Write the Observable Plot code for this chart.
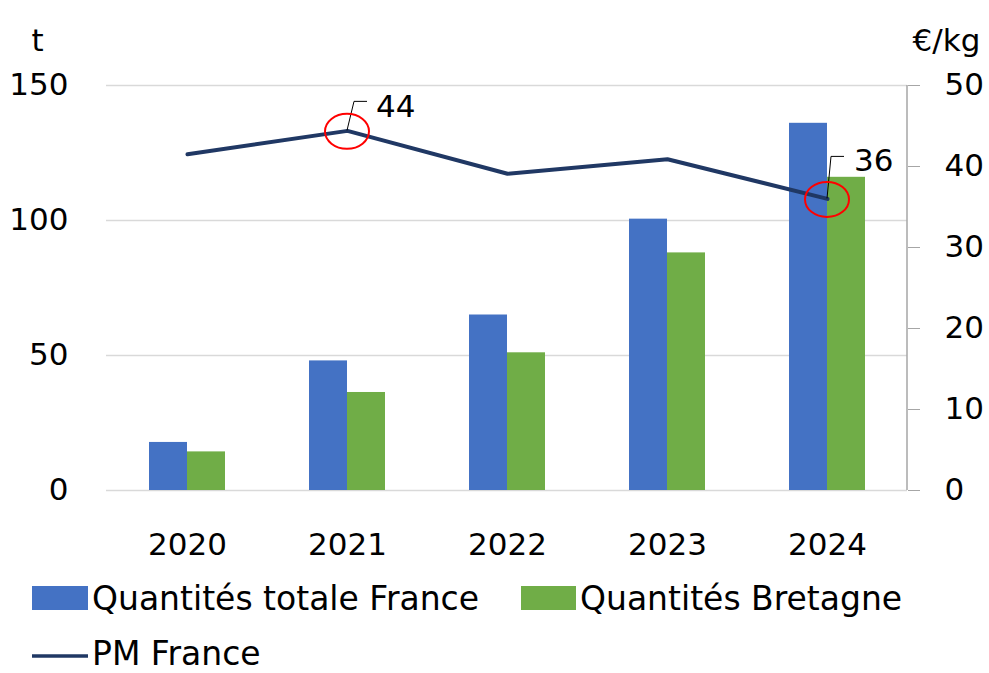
<!DOCTYPE html>
<html><head><meta charset="utf-8">
<script src="https://cdn.jsdelivr.net/npm/d3@7"></script>
<script src="https://cdn.jsdelivr.net/npm/@observablehq/plot@0.6"></script>
<style>
body{margin:0;background:#fff;}
#chart{width:989px;height:673px;overflow:hidden;}
svg{display:block;}
</style>
</head><body><div id="chart"></div>
<script>
// ---- data ----
const years = ["2020", "2021", "2022", "2023", "2024"];
const totalFrance = [17.8, 48, 65, 100.5, 136];
const bretagne = [14.3, 36.3, 51, 88, 116];
const pmFrance = [41.5, 44.4, 39.1, 40.9, 36];
const pmLabels = ["", "44", "", "", "36"];
const leftTicks = [0, 50, 100, 150];
const rightTicks = [0, 10, 20, 30, 40, 50];
const seriesNames = ["Quantités totale France", "Quantités Bretagne", "PM France"];
const unitLeft = "t";
const unitRight = "€/kg";

// ---- styling ----
const colors = ["#4472C4", "#70AD47", "#203864"];
const FONT = "DejaVu Sans";
const RATIO = 150 / 50; // right axis (0–50) mapped onto left axis (0–150)
const labelOffsets = {"2021": {lx: 7, ly: -29, hx: 20, tx: 29, ty: -25},
                      "2024": {lx: 4, ly: -42, hx: 17, tx: 27, ty: -39}};

const rows = years.map((y, i) => ({year: y, total: totalFrance[i], bret: bretagne[i], pm: pmFrance[i], label: pmLabels[i]}));

const annotations = (index, scales, values, dims) => {
  const g = d3.create("svg:g");
  const bw = scales.x.bandwidth ? scales.x.bandwidth() : 0;
  const xr = dims.width - dims.marginRight;
  g.append("line")
    .attr("x1", xr).attr("x2", xr)
    .attr("y1", scales.y(150)).attr("y2", scales.y(0))
    .attr("stroke", "#a6a6a6").attr("stroke-width", 1.5);
  rows.filter(d => d.label).forEach(d => {
    const px = scales.x(d.year) + bw / 2;
    const py = scales.y(d.pm * RATIO);
    const o = labelOffsets[d.year];
    g.append("path")
      .attr("d", `M${px},${py}L${px + o.lx},${py + o.ly}L${px + o.hx},${py + o.ly}`)
      .attr("fill", "none").attr("stroke", "#000").attr("stroke-width", 1);
    g.append("ellipse")
      .attr("cx", px).attr("cy", py + 1)
      .attr("rx", 22).attr("ry", 17.5)
      .attr("fill", "none").attr("stroke", "#ff0000").attr("stroke-width", 2);
    g.append("text")
      .attr("x", px + o.tx).attr("y", py + o.ty)
      .attr("dy", "0.36em")
      .attr("text-anchor", "start")
      .attr("font-size", 31).attr("font-family", FONT).attr("fill", "#000")
      .text(d.label);
  });
  return g.node();
};

const plot = Plot.plot({
  width: 989, height: 570,
  marginLeft: 106, marginRight: 82, marginTop: 85, marginBottom: 80,
  style: {fontFamily: FONT, fontSize: "31px", color: "#000", background: "#fff"},
  x: {type: "band", domain: years, padding: 0},
  y: {domain: [0, 150]},
  marks: [
    Plot.gridY(leftTicks, {stroke: "#d9d9d9", strokeOpacity: 1, strokeWidth: 1.5}),
    Plot.barY(rows, {x: "year", y: "total", fill: colors[0], insetLeft: 42, insetRight: 80}),
    Plot.barY(rows, {x: "year", y: "bret", fill: colors[1], insetLeft: 80, insetRight: 42}),
    Plot.line(rows, {x: "year", y: d => d.pm * RATIO, stroke: colors[2], strokeWidth: 4}),
    Plot.axisY(leftTicks, {anchor: "left", tickSize: 0, tickPadding: 38, label: null}),
    Plot.axisY(rightTicks.map(v => v * RATIO), {anchor: "right", tickSize: 12, tickPadding: 25, stroke: "#a6a6a6", tickFormat: d => d / RATIO, label: null}),
    Plot.axisX({tickSize: 0, tickPadding: 42, label: null}),
    annotations,
    Plot.text([unitLeft], {frameAnchor: "top-left", textAnchor: "middle", dx: -69, dy: -57, text: d => d}),
    Plot.text([unitRight], {frameAnchor: "top-right", textAnchor: "middle", dx: 39, dy: -57, text: d => d})
  ]
});
document.getElementById("chart").append(plot);

// ---- legend ----
const leg = d3.create("svg").attr("width", 989).attr("height", 103)
  .style("font-family", FONT).style("font-size", "33px");
leg.append("rect").attr("x", 32).attr("y", 16).attr("width", 56).attr("height", 24).attr("fill", colors[0]);
leg.append("text").attr("x", 92).attr("y", 40).text(seriesNames[0]);
leg.append("rect").attr("x", 521).attr("y", 16).attr("width", 55).attr("height", 24).attr("fill", colors[1]);
leg.append("text").attr("x", 580).attr("y", 40).text(seriesNames[1]);
leg.append("line").attr("x1", 32).attr("x2", 88).attr("y1", 86).attr("y2", 86)
  .attr("stroke", colors[2]).attr("stroke-width", 3.5);
leg.append("text").attr("x", 92).attr("y", 95).text(seriesNames[2]);
document.getElementById("chart").append(leg.node());
</script>
</body></html>
